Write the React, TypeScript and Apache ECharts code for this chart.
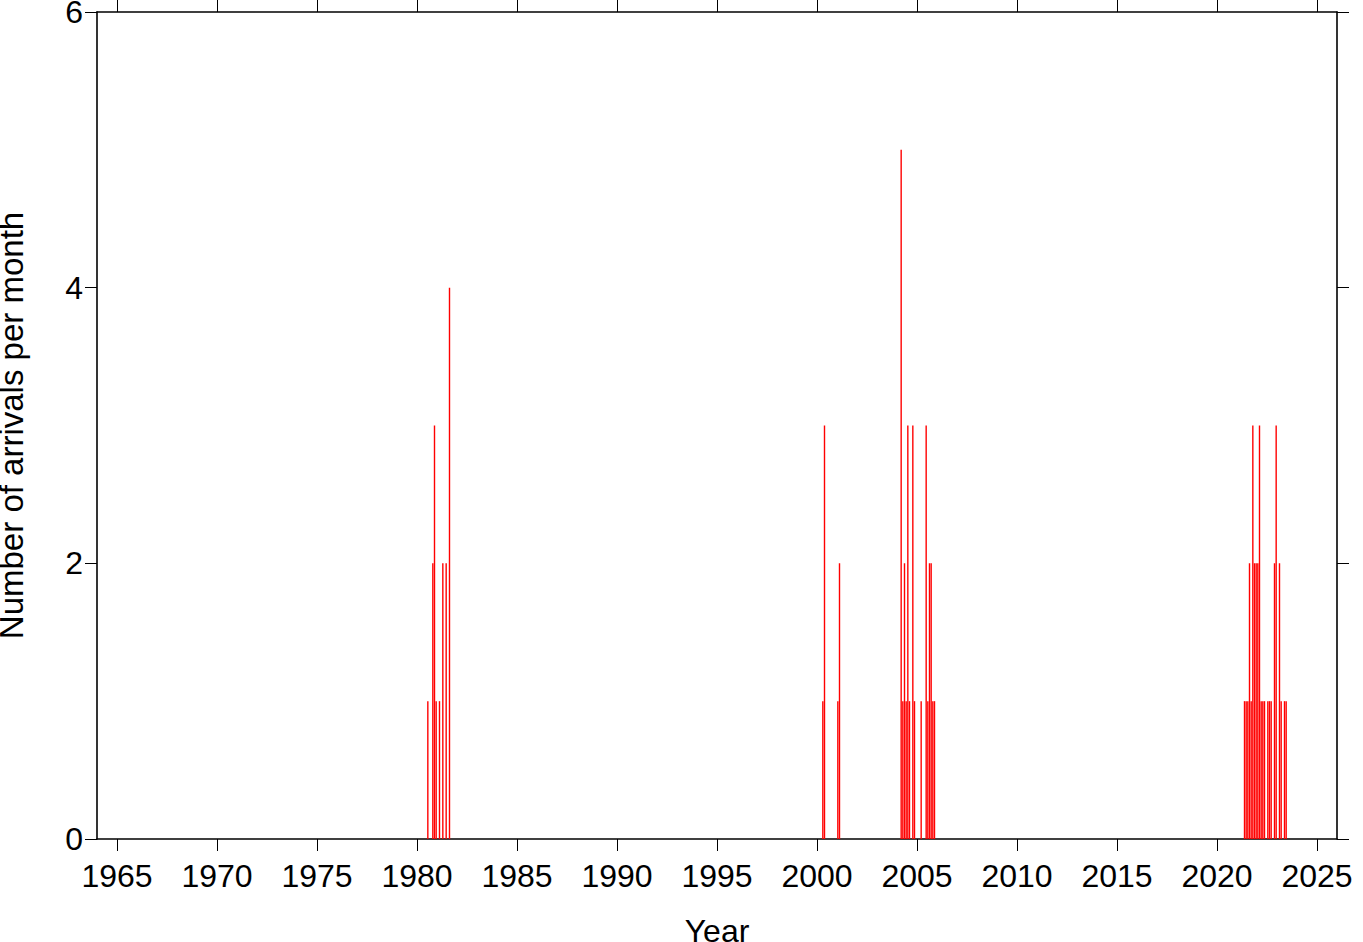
import React, { useEffect, useRef } from "react";
import * as echarts from "echarts";

// Months with arrivals (YYYY-MM) and number of arrivals in that month
const months: string[] = [
  "1980-07", "1980-10", "1980-11", "1980-12", "1981-02", "1981-04", "1981-06", "1981-08",
  "2000-04", "2000-05", "2001-01", "2001-02",
  "2004-03", "2004-04", "2004-05", "2004-06", "2004-07", "2004-08", "2004-10", "2004-11",
  "2005-03", "2005-06", "2005-07", "2005-08", "2005-09", "2005-10", "2005-11",
  "2021-05", "2021-06", "2021-07", "2021-08", "2021-09", "2021-10", "2021-11", "2021-12",
  "2022-01", "2022-02", "2022-03", "2022-04", "2022-05", "2022-07", "2022-08", "2022-09",
  "2022-11", "2022-12", "2023-02", "2023-03", "2023-05", "2023-06",
];
const counts: number[] = [
  1, 2, 3, 1, 1, 2, 2, 4,
  1, 3, 1, 2,
  5, 1, 2, 1, 3, 1, 3, 1,
  1, 3, 1, 2, 2, 1, 1,
  1, 1, 1, 2, 1, 3, 2, 2,
  2, 3, 1, 1, 1, 1, 1, 1,
  2, 3, 2, 1, 1, 1,
];
const yearTicks: number[] = [1965, 1970, 1975, 1980, 1985, 1990, 1995, 2000, 2005, 2010, 2015, 2020, 2025];

const FONT = "Liberation Sans";

export default function App() {
  const ref = useRef<HTMLDivElement>(null);
  useEffect(() => {
    document.body.style.margin = "0";
    if (!ref.current) return;
    const chart = echarts.init(ref.current, null, { renderer: "svg" });
    const data = months.map((m, i) => {
      const [y, mo] = m.split("-").map(Number);
      return [y + (mo - 0.5) / 12, counts[i]];
    });
    const axisLine = { show: true, onZero: false, lineStyle: { color: "#000", width: 1.6 } };
    const axisTick = { show: true, inside: false, length: 12, lineStyle: { color: "#000", width: 1 } };
    chart.setOption({
      animation: false,
      backgroundColor: "#fff",
      grid: { left: 97, right: 26, top: 12, bottom: 103, containLabel: false, outerBoundsMode: "none" },
      xAxis: [
        {
          type: "value",
          position: "bottom",
          min: 1964,
          max: 2026,
          axisLine,
          axisTick: { ...axisTick, customValues: yearTicks },
          axisLabel: {
            customValues: yearTicks,
            color: "#000",
            fontFamily: FONT,
            fontSize: 32,
            margin: 21,
            formatter: (v: number) => String(v),
          },
          splitLine: { show: false },
          name: "Year",
          nameLocation: "middle",
          nameGap: 76,
          nameTextStyle: { color: "#000", fontFamily: FONT, fontSize: 32 },
        },
        {
          type: "value",
          position: "top",
          min: 1964,
          max: 2026,
          axisLine,
          axisTick: { ...axisTick, customValues: yearTicks },
          axisLabel: { show: false },
          splitLine: { show: false },
        },
      ],
      yAxis: [
        {
          type: "value",
          position: "left",
          min: 0,
          max: 6,
          interval: 2,
          axisLine,
          axisTick,
          axisLabel: { color: "#000", fontFamily: FONT, fontSize: 32, margin: 14 },
          splitLine: { show: false },
          name: "Number of arrivals per month",
          nameLocation: "middle",
          nameGap: 69,
          nameTextStyle: { color: "#000", fontFamily: FONT, fontSize: 33 },
        },
        {
          type: "value",
          position: "right",
          min: 0,
          max: 6,
          interval: 2,
          axisLine,
          axisTick,
          axisLabel: { show: false },
          splitLine: { show: false },
        },
      ],
      series: [
        {
          type: "bar",
          xAxisIndex: 0,
          yAxisIndex: 0,
          data,
          barWidth: 1.4,
          itemStyle: { color: "#ff0000" },
        },
      ],
    });
    return () => chart.dispose();
  }, []);
  return <div ref={ref} style={{ width: 1363, height: 942 }} />;
}
